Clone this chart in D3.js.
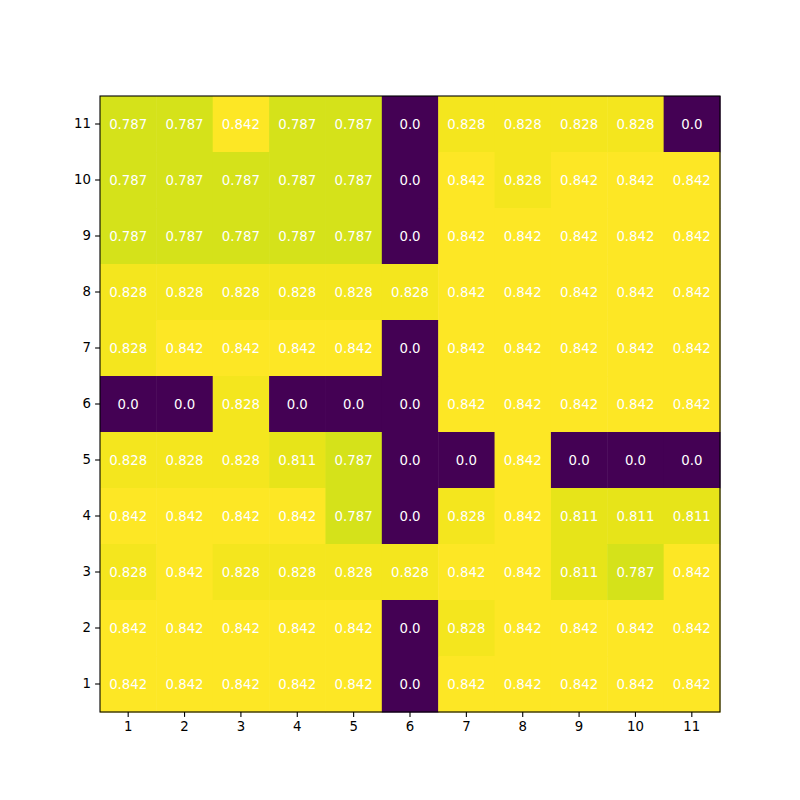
<!DOCTYPE html>
<html>
<head>
<meta charset="utf-8">
<script src="https://cdn.jsdelivr.net/npm/d3@7"></script>
<style>
  body { margin: 0; background: #fff; }
  svg { display: block; font-family: "DejaVu Sans", sans-serif; }
</style>
</head>
<body>
<svg id="chart" width="800" height="800"></svg>
<script>
// column and row labels (rows listed top to bottom: 11 .. 1)
let cols = d3.range(1, 12)
let rows = d3.range(11, 0, -1)

let row11 = [0.787, 0.787, 0.842, 0.787, 0.787, 0.0, 0.828, 0.828, 0.828, 0.828, 0.0]
let row10 = [0.787, 0.787, 0.787, 0.787, 0.787, 0.0, 0.842, 0.828, 0.842, 0.842, 0.842]
let row9  = [0.787, 0.787, 0.787, 0.787, 0.787, 0.0, 0.842, 0.842, 0.842, 0.842, 0.842]
let row8  = [0.828, 0.828, 0.828, 0.828, 0.828, 0.828, 0.842, 0.842, 0.842, 0.842, 0.842]
let row7  = [0.828, 0.842, 0.842, 0.842, 0.842, 0.0, 0.842, 0.842, 0.842, 0.842, 0.842]
let row6  = [0.0, 0.0, 0.828, 0.0, 0.0, 0.0, 0.842, 0.842, 0.842, 0.842, 0.842]
let row5  = [0.828, 0.828, 0.828, 0.811, 0.787, 0.0, 0.0, 0.842, 0.0, 0.0, 0.0]
let row4  = [0.842, 0.842, 0.842, 0.842, 0.787, 0.0, 0.828, 0.842, 0.811, 0.811, 0.811]
let row3  = [0.828, 0.842, 0.828, 0.828, 0.828, 0.828, 0.842, 0.842, 0.811, 0.787, 0.842]
let row2  = [0.842, 0.842, 0.842, 0.842, 0.842, 0.0, 0.828, 0.842, 0.842, 0.842, 0.842]
let row1  = [0.842, 0.842, 0.842, 0.842, 0.842, 0.0, 0.842, 0.842, 0.842, 0.842, 0.842]

let matrix = [row11, row10, row9, row8, row7, row6, row5, row4, row3, row2, row1]

let svg = d3.select("#chart")
let margin = {left: 100, top: 96, right: 80, bottom: 88}
let width = 800 - margin.left - margin.right
let height = 800 - margin.top - margin.bottom

let g = svg.append("g").attr("transform", "translate(" + margin.left + "," + margin.top + ")")

let x = d3.scaleBand().domain(cols).range([0, width])
let y = d3.scaleBand().domain(rows).range([0, height])
let vmax = d3.max(matrix, r => d3.max(r))
let color = d3.scaleSequential(d3.interpolateViridis).domain([0, vmax])

let cells = []
matrix.forEach((r, i) => r.forEach((v, j) => cells.push({row: rows[i], col: cols[j], v: v})))

g.selectAll(".cell").data(cells).enter()
  .append("rect").attr("class", "cell")
  .attr("x", d => x(d.col))
  .attr("y", d => y(d.row))
  .attr("width", x.bandwidth() + 0.5)
  .attr("height", y.bandwidth() + 0.5)
  .attr("fill", d => color(d.v))

let fmt = d3.format(".3f")
g.selectAll(".val").data(cells).enter()
  .append("text").attr("class", "val")
  .attr("x", d => x(d.col) + x.bandwidth() / 2)
  .attr("y", d => y(d.row) + y.bandwidth() / 2)
  .attr("text-anchor", "middle")
  .attr("dy", "0.35em")
  .attr("fill", "#fff")
  .style("font-size", "13.3px")
  .text(d => d.v === 0 ? "0.0" : fmt(d.v))

let xAxis = g.append("g").attr("transform", "translate(0," + height + ")")
  .call(d3.axisBottom(x).tickSize(4.9).tickPadding(4.2))
let yAxis = g.append("g")
  .call(d3.axisLeft(y).tickSize(4.9).tickPadding(4.2))

;[xAxis, yAxis].forEach(a => {
  a.select(".domain").remove()
  a.selectAll("line").attr("stroke", "#000").attr("stroke-width", 1.1)
  a.selectAll("text").attr("fill", "#000").style("font-size", "13.3px").style("font-family", "DejaVu Sans")
})

g.append("rect")
  .attr("width", width).attr("height", height)
  .attr("fill", "none").attr("stroke", "#000").attr("stroke-width", 1.1)
</script>
</body>
</html>
